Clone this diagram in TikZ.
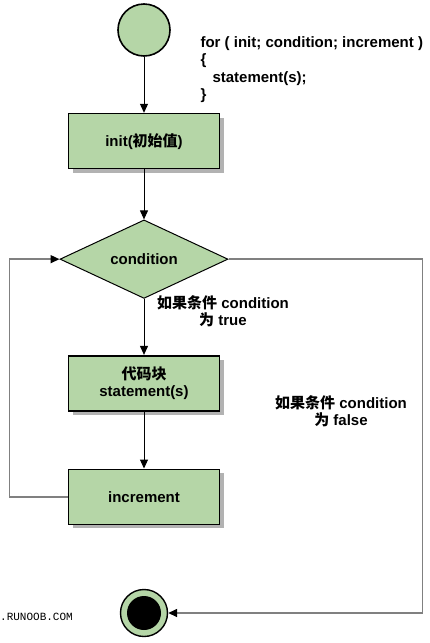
\documentclass[tikz,border=0pt]{standalone}
\usepackage{fontspec}
\setmainfont{Liberation Sans}
\setmonofont{Liberation Mono}
\newfontfamily\cjk{Noto Sans CJK SC}
\usepackage{xcolor}
\usetikzlibrary{shapes.geometric, arrows.meta, positioning, shadows}
\definecolor{boxgreen}{HTML}{B5D6A7}
\definecolor{linegray}{HTML}{808080}

\begin{document}
\begin{tikzpicture}[
    x=1pt, y=-1pt,
    font=\fontsize{15}{17.5}\selectfont\bfseries,
    block/.style={rectangle, draw, line width=1.6pt, fill=boxgreen, minimum width=151pt, minimum height=55pt, align=center,
        general shadow={fill=black!30, shadow xshift=4pt, shadow yshift=-4pt}},
    decision/.style={diamond, draw, line width=1pt, fill=boxgreen, minimum width=168pt, minimum height=76pt, inner sep=0pt},
    flow/.style={-{Triangle[length=9pt, width=8pt]}, line width=1pt},
    loopback/.style={-{Triangle[length=9pt, width=8pt, color=black]}, draw=linegray, line width=1.5pt}
]
\useasboundingbox (0,0) rectangle (430,643);

\node[circle, draw, line width=1.6pt, fill=boxgreen, minimum size=52pt] (start) at (144,30) {};
\node[block, below=56pt of start] (init) {init({\cjk 初始值})};
\node[decision, below=50pt of init] (cond) {condition};
\node[block, below=56pt of cond] (body) {{\cjk 代码块}\\statement(s)};
\node[block, below=57pt of body] (incr) {increment};
\node[circle, draw, line width=1.4pt, fill=boxgreen, minimum size=47pt, inner sep=0pt] (stop) at (144,613) {};
\node[circle, fill=black, minimum size=34pt, inner sep=0pt] (stopdot) at (stop) {};

\draw[flow] (start) -- (init);
\draw[flow] (init) -- (cond);
\draw[flow] (cond) -- (body);
\draw[flow] (body) -- (incr);
\draw[loopback] (incr.west) -| ([xshift=-50pt]cond.west) -- (cond.west);
\draw[loopback] (cond.east) -- ++(194,0) |- (stop.east);

% Labels
\node[align=center] (truelbl) at (223,311) {{\cjk 如果条件} condition\\{\cjk 为} true};
\node[align=center] (falselbl) at (341,411) {{\cjk 如果条件} condition\\{\cjk 为} false};
\node[anchor=north west, align=left] (code) at (197,33) {for ( init; condition; increment )\\\{\\\hspace*{12pt}statement(s);\\\}};
\node[anchor=west, inner sep=0pt, font=\ttfamily\fontsize{11}{13}\selectfont] (site) at (0,617) {.RUNOOB.COM};

\end{tikzpicture}
\end{document}
